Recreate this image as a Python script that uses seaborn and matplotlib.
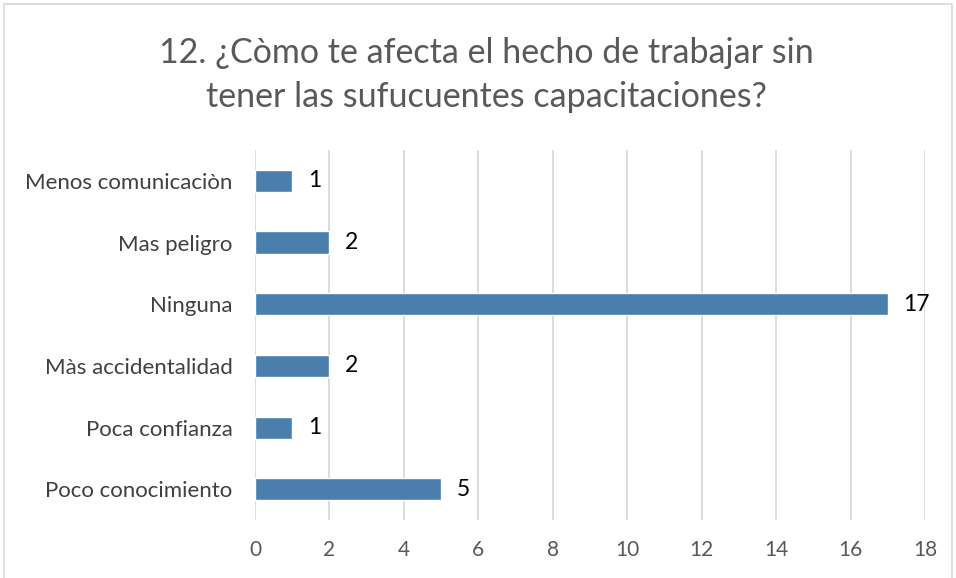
import pandas as pd
import matplotlib
matplotlib.use("Agg")
import matplotlib.pyplot as plt
import seaborn as sns
from matplotlib.patches import Rectangle

categories = [
    "Menos comunicaciòn",
    "Mas peligro",
    "Ninguna",
    "Màs accidentalidad",
    "Poca confianza",
    "Poco conocimiento",
]
counts = [1, 2, 17, 2, 1, 5]
x_ticks = [0, 2, 4, 6, 8, 10, 12, 14, 16, 18]
title = "12. ¿Còmo te afecta el hecho de trabajar sin\ntener las sufucuentes capacitaciones?"

df = pd.DataFrame({"respuesta": categories, "cantidad": counts})

sns.set_theme(style="white")
plt.rcParams["font.family"] = ["Lato", "DejaVu Sans"]

fig = plt.figure(figsize=(9.56, 5.78), dpi=100)
ax = fig.add_axes([0.2667, 0.100, 0.7009, 0.6405])

sns.barplot(data=df, x="cantidad", y="respuesta", orient="h",
            color="#4A7EAD", saturation=1, width=0.36, ax=ax)

ax.set_xlim(0, 18)
ax.set_xticks(x_ticks)
ax.xaxis.grid(True, color="#D9D9D9", linewidth=1.3)
ax.set_axisbelow(True)
for s in ax.spines.values():
    s.set_visible(False)
ax.set_xlabel("")
ax.set_ylabel("")
ax.tick_params(axis="x", labelsize=15, labelcolor="#595959", pad=14, length=0)
ax.tick_params(axis="y", labelsize=16, labelcolor="#404040", pad=16, length=0)

# data labels next to the bars
for i, v in enumerate(counts):
    ax.text(v + 0.42, i, str(v), va="center", ha="left", fontsize=16.5, color="black")

fig.text(0.509, 0.870, title, ha="center", va="center", fontsize=24.5,
         color="#595959", linespacing=1.45)

fig.patches.append(Rectangle((0.004, -0.01), 0.992, 1.003, transform=fig.transFigure,
                             fill=False, edgecolor="#D9D9D9", linewidth=1.2))

fig.savefig("out.png", dpi=100)
